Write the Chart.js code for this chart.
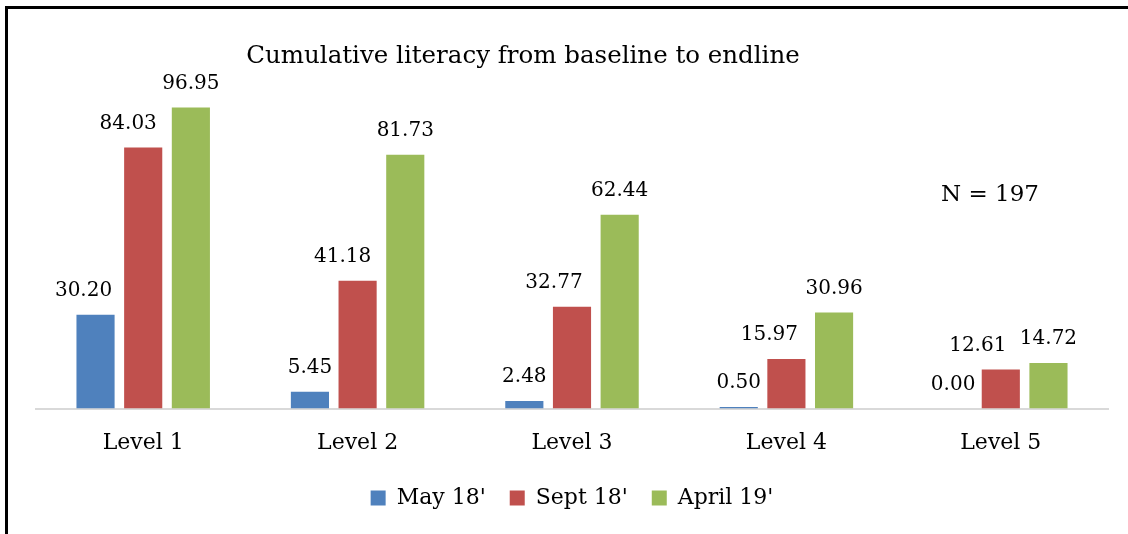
<!DOCTYPE html>
<html>
<head>
<meta charset="utf-8">
<script src="https://cdn.jsdelivr.net/npm/chart.js@4/dist/chart.umd.min.js"></script>
<style>
  html, body { margin: 0; padding: 0; background: #fff; }
  #wrap { width: 1128px; height: 534px; }
</style>
</head>
<body>
<div id="wrap"><canvas id="graph" width="1128" height="534"></canvas></div>
<script>
var levels = ['Level 1', 'Level 2', 'Level 3', 'Level 4', 'Level 5'];
var may18 = [30.20, 5.45, 2.48, 0.50, 0.00];
var sept18 = [84.03, 41.18, 32.77, 15.97, 12.61];
var april19 = [96.95, 81.73, 62.44, 30.96, 14.72];
var series_names = ["May 18'", "Sept 18'", "April 19'"];
var series_colors = ['#4F81BD', '#C0504D', '#9BBB59'];

// decalage horizontal des etiquettes (deplacees a la main dans l'original)
var label_dx = [
    [-12, 0, 0, 0, 0],
    [-15, -15, -18, -17, -23],
    [0, 0, 0, 0, 0]
];

var font_family = '"DejaVu Serif", serif';

// cadre, titre, N et etiquettes de valeurs
var decor = {
    id: 'decor',
    beforeDraw(chart) {
        let ctx = chart.ctx;
        ctx.save();
        ctx.fillStyle = '#fff';
        ctx.fillRect(0, 0, chart.width, chart.height);
        ctx.strokeStyle = '#000';
        ctx.lineWidth = 3;
        ctx.beginPath();
        ctx.moveTo(6.5, chart.height);
        ctx.lineTo(6.5, 7.5);
        ctx.lineTo(chart.width, 7.5);
        ctx.stroke();
        ctx.restore();
    },
    afterDatasetsDraw(chart) {
        let ctx = chart.ctx;
        ctx.save();
        ctx.fillStyle = '#000';
        ctx.textAlign = 'center';
        ctx.textBaseline = 'middle';
        ctx.font = '24.5px ' + font_family;
        ctx.fillText('Cumulative literacy from baseline to endline', 523, 57);
        ctx.font = '23px ' + font_family;
        ctx.fillText('N = 197', 990, 195);

        ctx.font = '20px ' + font_family;
        chart.data.datasets.forEach((ds, i) => {
            let meta = chart.getDatasetMeta(i);
            meta.data.forEach((bar, j) => {
                ctx.fillText(ds.data[j].toFixed(2), bar.x + label_dx[i][j], bar.y - 24);
            });
        });
        ctx.restore();
    }
};

var datasets = [may18, sept18, april19].map((vals, i) => ({
    label: series_names[i],
    data: vals,
    backgroundColor: series_colors[i],
    barPercentage: 0.8,
    categoryPercentage: 0.667
}));

var chart = new Chart('graph', {
    type: 'bar',
    data: { labels: levels, datasets: datasets },
    options: {
        responsive: false,
        animation: false,
        layout: { padding: { left: 36, right: 20, top: 98, bottom: 15 } },
        plugins: {
            legend: {
                position: 'bottom',
                labels: {
                    font: { family: font_family, size: 22 },
                    color: '#000',
                    boxWidth: 15,
                    boxHeight: 15,
                    padding: 10,
                    generateLabels(chart) {
                        let items = Chart.defaults.plugins.legend.labels.generateLabels(chart);
                        // un peu plus d'espace entre les entrees
                        items.forEach((it, i) => {
                            if (i < items.length - 1) it.text = it.text + '  ';
                        });
                        return items;
                    }
                }
            },
            title: { display: false },
            tooltip: { enabled: false }
        },
        scales: {
            x: {
                grid: { display: false, drawTicks: false },
                border: { display: true, color: '#D9D9D9', width: 2 },
                ticks: {
                    color: '#000',
                    font: { family: font_family, size: 22 },
                    padding: 21
                }
            },
            y: {
                display: false,
                min: 0,
                max: 100
            }
        }
    },
    plugins: [decor]
});
</script>
</body>
</html>
